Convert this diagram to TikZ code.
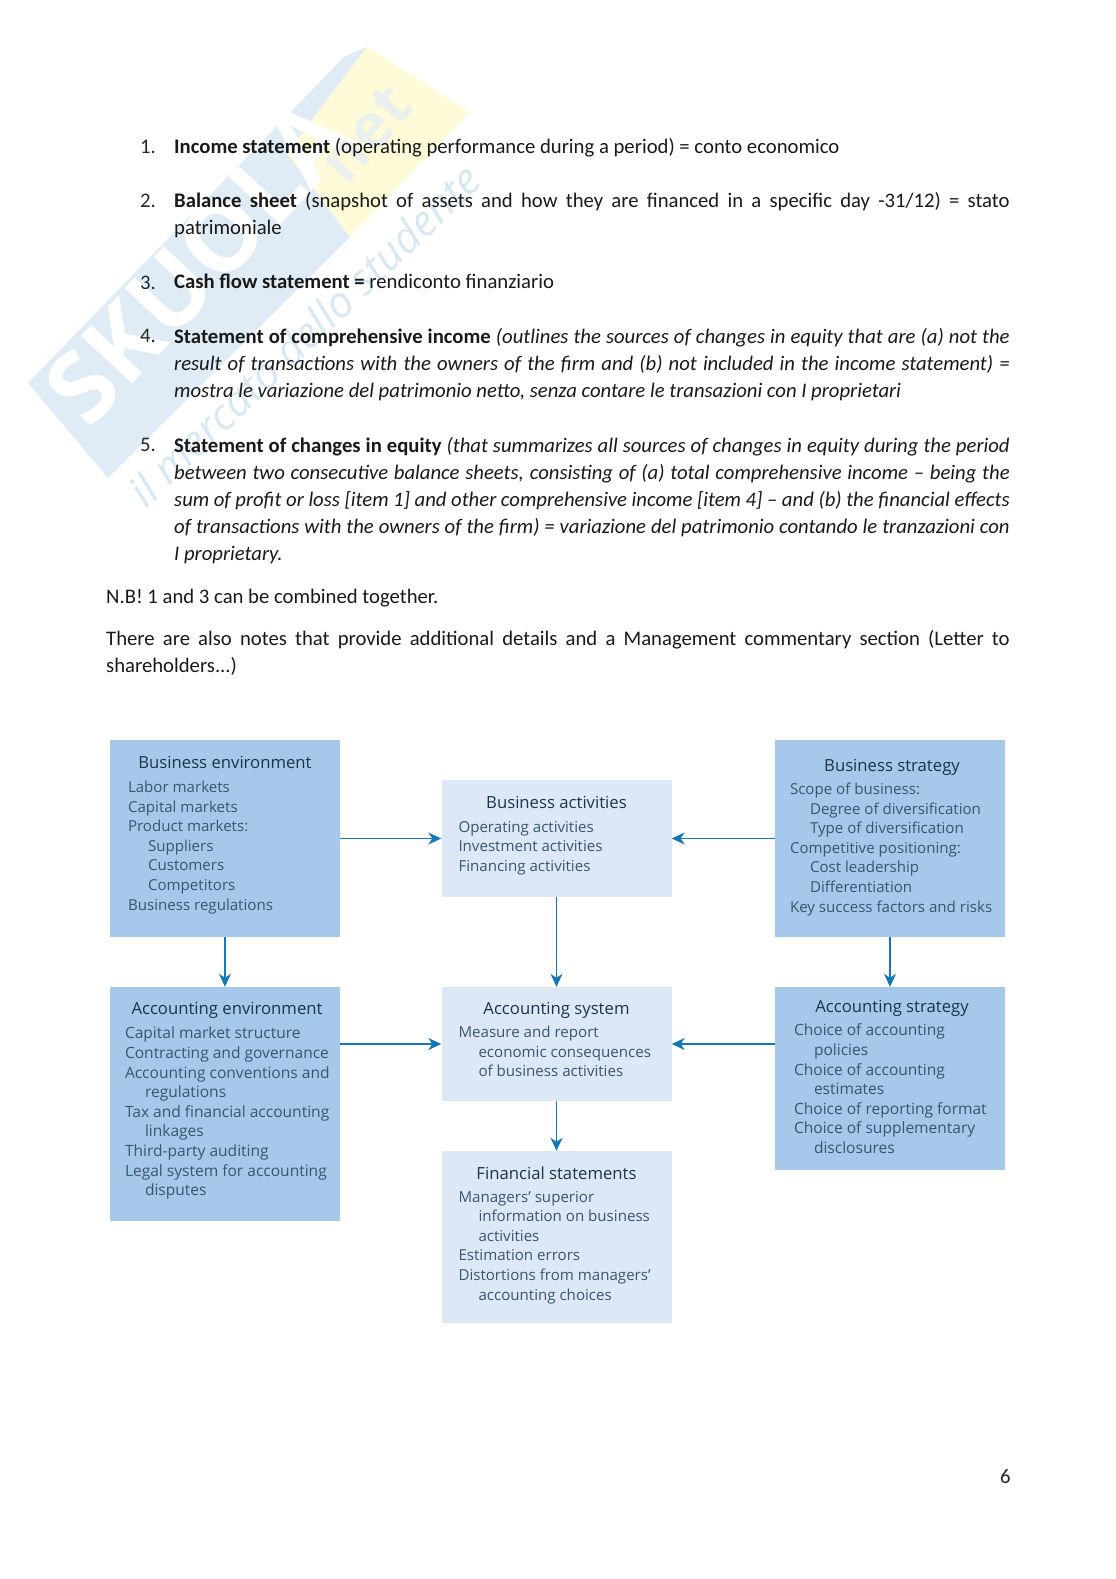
\documentclass[tikz,border=0pt]{standalone}
\usepackage{fontspec}
\setmainfont{Carlito}
\setsansfont{Open Sans}
\usetikzlibrary{arrows.meta,positioning}
\definecolor{wmblue}{HTML}{DFECF6}
\definecolor{wmyellow}{HTML}{FFFBD9}
\definecolor{wmtext}{HTML}{D8E8F3}
\definecolor{darkfill}{HTML}{A6C8EA}
\definecolor{lightfill}{HTML}{DCE8F5}
\definecolor{headink}{HTML}{1D3549}
\definecolor{listink}{HTML}{3A566E}
\definecolor{arrowink}{HTML}{1577B5}

\begin{document}
\begin{tikzpicture}[x=1pt,y=-1pt,
  node distance=10pt and 10pt,
  para/.style={anchor=north west, inner sep=0pt, align=justify, text width=835.5pt,
               font=\fontsize{20.7}{27}\selectfont\sloppy, text=black!90},
  note/.style={para, text width=903.5pt},
  num/.style={anchor=north west, inner sep=0pt, font=\fontsize{20.7}{27}\selectfont, text=black!85},
  darkbox/.style={rectangle, fill=darkfill, minimum width=230pt, inner sep=0pt},
  lightbox/.style={rectangle, fill=lightfill, minimum width=230pt, inner sep=0pt},
  head/.style={inner sep=0pt, font=\sffamily\fontsize{16.7}{19.6}\selectfont, text=headink},
  list/.style={inner sep=0pt, align=left, font=\sffamily\fontsize{15.1}{19.6}\selectfont, text=listink},
  widelist/.style={list, font=\sffamily\fontsize{15.55}{19.6}\selectfont},
  arr/.style={draw=arrowink, line width=1.2pt, -{Stealth[length=13pt,width=12pt,inset=4pt]}}]
  \useasboundingbox (0,0) rectangle (1116,1579);
  % watermark
  \fill[wmblue] (28,383) -- (345,56) -- (367,47) -- (287,153) -- (350,237) -- (108,478) -- cycle;
  \fill[wmyellow] (367,47) -- (470,112) -- (350,237) -- (287,153) -- cycle;
  \node[rotate=47, font=\sffamily\bfseries\fontsize{98}{98}\selectfont, text=white] (wmname) at (198,262) {SKUOLA};
  \node[rotate=48, font=\sffamily\bfseries\fontsize{62}{62}\selectfont, text=wmblue!70!wmyellow] (wmnet) at (366,134) {net};
  \node[rotate=44, font=\sffamily\itshape\fontsize{43}{43}\selectfont, text=wmtext] (wmslogan) at (304,335) {il mercato dello studente};
  % numbered list
  \node[num] (n1) at (140,139.5) {1.};
  \node[para] (t1) at (174,138) {\textbf{Income statement} (operating performance during a period) = conto economico};
  \node[num] (n2) at (140,193.5) {2.};
  \node[para] (t2) at (174,192) {\textbf{Balance sheet} (snapshot of assets and how they are financed in a specific day -31/12) = stato\linebreak patrimoniale};
  \node[num] (n3) at (140,275.5) {3.};
  \node[para] (t3) at (174,274) {\textbf{Cash flow statement =} rendiconto finanziario};
  \node[num] (n4) at (140,329.5) {4.};
  \node[para] (t4) at (174,328) {\textbf{Statement of comprehensive income} \textit{(outlines the sources of changes in equity that are (a) not the\linebreak result of transactions with the owners of the firm and (b) not included in the income statement) =\linebreak mostra le variazione del patrimonio netto, senza contare le transazioni con I proprietari}};
  \node[num] (n5) at (140,438.5) {5.};
  \node[para] (t5) at (174,437) {\textbf{Statement of changes in equity} \textit{(that summarizes all sources of changes in equity during the period\linebreak between two consecutive balance sheets, consisting of (a) total comprehensive income – being the\linebreak sum of profit or loss [item 1] and other comprehensive income [item 4] – and (b) the financial effects\linebreak of transactions with the owners of the firm) = variazione del patrimonio contando le tranzazioni con\linebreak I proprietary.}};
  \node[note] (nb) at (106,589) {N.B! 1 and 3 can be combined together.};
  \node[note] (extra) at (106,630) {There are also notes that provide additional details and a Management commentary section (Letter to\linebreak shareholders...)};
  % boxes
  \node[darkbox, minimum height=197pt] (benv) at (225,838.5) {};
  \node[lightbox, minimum height=117pt] (bact) at (556.5,838.5) {};
  \node[darkbox, minimum height=197pt] (bstrat) at (890,838.5) {};
  \node[darkbox, minimum height=234pt] (aenv) at (225,1104) {};
  \node[lightbox, minimum height=114pt] (asys) at (556.5,1044) {};
  \node[darkbox, minimum height=183pt] (astrat) at (890,1078.5) {};
  \node[lightbox, minimum height=172pt] (fin) at (556.5,1237) {};
  % titles and contents
  \node[head, below=16pt of benv.north] (benvhead) {Business environment};
  \node[list, below right=41pt and 18pt of benv.north west] (benvlist) {Labor markets\\Capital markets\\Product markets:\\\hspace*{20pt}Suppliers\\\hspace*{20pt}Customers\\\hspace*{20pt}Competitors\\Business regulations};
  \node[head, below=16pt of bact.north] (bacthead) {Business activities};
  \node[list, below right=41pt and 17pt of bact.north west] (bactlist) {Operating activities\\Investment activities\\Financing activities};
  \node[head, below=19pt of bstrat.north, xshift=2pt] (bstrathead) {Business strategy};
  \node[list, below right=43pt and 15pt of bstrat.north west] (bstratlist) {Scope of business:\\\hspace*{20pt}Degree of diversification\\\hspace*{20pt}Type of diversification\\Competitive positioning:\\\hspace*{20pt}Cost leadership\\\hspace*{20pt}Differentiation\\Key success factors and risks};
  \node[head, below=15pt of aenv.north, xshift=2pt] (aenvhead) {Accounting environment};
  \node[widelist, below right=40pt and 15pt of aenv.north west] (aenvlist) {Capital market structure\\Contracting and governance\\Accounting conventions and\\\hspace*{20pt}regulations\\Tax and financial accounting\\\hspace*{20pt}linkages\\Third-party auditing\\Legal system for accounting\\\hspace*{20pt}disputes};
  \node[head, below=15pt of asys.north] (asyshead) {Accounting system};
  \node[list, below right=39pt and 17pt of asys.north west] (asyslist) {Measure and report\\\hspace*{20pt}economic consequences\\\hspace*{20pt}of business activities};
  \node[head, below=13pt of astrat.north, xshift=2pt] (astrathead) {Accounting strategy};
  \node[widelist, below right=37pt and 19pt of astrat.north west] (astratlist) {Choice of accounting\\\hspace*{20pt}policies\\Choice of accounting\\\hspace*{20pt}estimates\\Choice of reporting format\\Choice of supplementary\\\hspace*{20pt}disclosures};
  \node[head, below=16pt of fin.north] (finhead) {Financial statements};
  \node[list, below right=40pt and 17pt of fin.north west] (finlist) {Managers' superior\\\hspace*{20pt}information on business\\\hspace*{20pt}activities\\Estimation errors\\Distortions from managers'\\\hspace*{20pt}accounting choices};
  % connectors
  \draw[arr] (benv) -- (bact);
  \draw[arr] (bstrat) -- (bact);
  \draw[arr] (benv) -- (aenv);
  \draw[arr] (bact) -- (asys);
  \draw[arr] (bstrat) -- (astrat);
  \draw[arr] (aenv.east |- asys) -- (asys);
  \draw[arr] (astrat.west |- asys) -- (asys);
  \draw[arr] (asys) -- (fin);
  % page number
  \node[num] (pagenum) at (1000,1469) {6};
\end{tikzpicture}
\end{document}
